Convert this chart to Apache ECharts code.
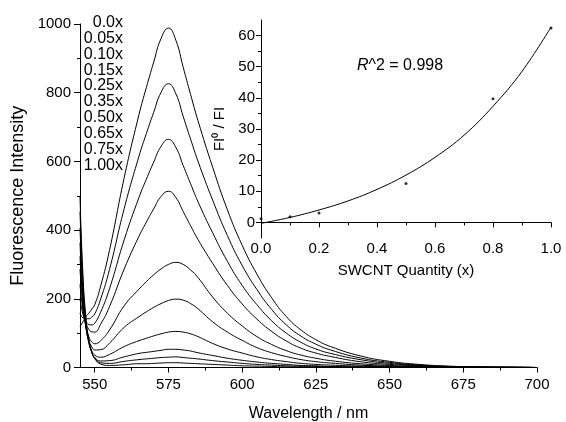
<!DOCTYPE html>
<html>
<head>
<meta charset="utf-8">
<script src="https://cdn.jsdelivr.net/npm/echarts@6/dist/echarts.min.js"></script>
<style>
  html, body { margin: 0; padding: 0; background: #fff; }
  #chart { width: 566px; height: 422px; }
</style>
</head>
<body>
<div id="chart"></div>
<script>
// emission spectra, one array per SWCNT amount
var wavelength = [545,546,547,548,549,550,552,555,560,565,567.5,570,572.5,575,577.5,580,582.5,585,590,595,600,605,610,615,620,625,630,640,650,660,670,680,690,700];
var doseLabels = ['0.0x','0.05x','0.10x','0.15x','0.25x','0.35x','0.50x','0.65x','0.75x','1.00x'];

var int000 = [119,133,148,158,170,183,237,341,553,736,815,889,958,988,953,874,795,719,583,459,356,272,203,148,109,81,61,34,18,9,4,2,1,0];
var int005 = [159,144,142,142,147,156,199,285,463,615,681,743,801,826,797,731,665,601,487,384,297,227,169,124,91,68,51,28,15,7,3,2,1,0];
var int010 = [200,155,135,125,124,129,161,229,372,495,548,598,644,664,641,588,535,483,392,309,239,183,136,100,73,54,41,23,12,6,3,1,1,0];
var int015 = [242,167,130,111,104,103,126,177,287,382,423,462,498,513,495,454,413,373,303,239,185,141,105,77,56,42,32,17,9,5,2,1,1,0];
var int025 = [287,177,120,89,75,69,78,109,180,228,250,270,287,300,306,300,284,262,205,158,121,90,67,49,36,27,20,11,6,3,1,1,0,0];
var int035 = [324,189,118,80,60,51,52,71,117,148,162,175,186,195,199,196,186,171,133,103,79,58,43,32,23,17,13,7,4,2,1,0,0,0];
var int050 = [363,204,118,73,48,36,30,38,61,78,85,92,98,103,105,103,98,90,70,54,42,31,23,17,12,9,7,4,2,1,0,0,0,0];
var int065 = [406,224,125,72,44,29,19,20,31,41,44,47,50,53,53,51,48,43,35,27,21,16,12,9,6,5,3,2,1,0,0,0,0,0];
var int075 = [454,248,137,77,44,27,14,12,18,23,25,27,29,30,31,29,27,25,20,16,12,9,7,5,4,3,2,1,1,0,0,0,0,0];
var int100 = [497,270,147,81,45,26,10,6,8,11,11,12,13,14,14,13,12,11,9,7,5,4,3,2,2,1,1,0,0,0,0,0,0,0];
var spectra = [int000,int005,int010,int015,int025,int035,int050,int065,int075,int100];

// inset: quenching ratio vs amount, and the fitted curve
var quantity = [0, 0.1, 0.2, 0.5, 0.8, 1.0];
var ratio = [1.2, 1.8, 3.0, 12.5, 39.7, 62.4];
var fitX = [0, 0.1, 0.2, 0.3, 0.4, 0.5, 0.6, 0.7, 0.8, 0.9, 1.0];
var fitY = [-0.3, 1.6, 4.0, 6.9, 10.6, 15.2, 20.9, 28.0, 37.3, 48.5, 62.7];

var mainXTicks = [550,575,600,625,650,675,700];
var mainXMinor = [562.5,587.5,612.5,637.5,662.5,687.5];
var insetYTicks = [0,10,20,30,40,50,60];
var insetYMinor = [5,15,25,35,45,55];

var font = '"Liberation Sans", Arial, sans-serif';
var black = '#000';

var chart = echarts.init(document.getElementById('chart'));

var series = []
spectra.forEach(function (vals, i) {
    series.push({
        name: doseLabels[i],
        type: 'line',
        xAxisIndex: 0,
        yAxisIndex: 0,
        data: wavelength.map(function (w, j) { return [w, vals[j]] }),
        showSymbol: false,
        symbol: 'none',
        smooth: 0.5,
        lineStyle: { color: black, width: 1 },
        z: 2
    })
})
series.push({
    type: 'line',
    xAxisIndex: 2,
    yAxisIndex: 1,
    data: fitX.map(function (x, j) { return [x, fitY[j]] }),
    symbol: 'none',
    smooth: 0.4,
    lineStyle: { color: black, width: 1 }
})
series.push({
    type: 'scatter',
    xAxisIndex: 2,
    yAxisIndex: 1,
    data: quantity.map(function (x, j) { return [x, ratio[j]] }),
    symbol: 'circle',
    symbolSize: 3,
    itemStyle: { color: black }
})

var axisLine = { show: true, lineStyle: { color: black, width: 1 } }
var label = { color: black, fontSize: 15, fontFamily: font }

var option = {
    animation: false,
    backgroundColor: '#fff',
    textStyle: { fontFamily: font, color: black },
    grid: [
        { left: 80, right: 29, top: 24, bottom: 54.5, outerBoundsMode: 'none' },
        { left: 261, right: 15, top: 20, bottom: 184, outerBoundsMode: 'none' }
    ],
    xAxis: [
        {
            type: 'value', gridIndex: 0, min: 545, max: 700,
            axisLine: axisLine,
            axisTick: { show: true, length: 5, customValues: mainXTicks, lineStyle: { color: black } },
            axisLabel: Object.assign({ customValues: mainXTicks, margin: 10 }, label),
            splitLine: { show: false },
            name: 'Wavelength / nm', nameLocation: 'middle', nameGap: 38,
            nameTextStyle: { fontSize: 16, color: black, fontFamily: font }
        },
        {
            type: 'value', gridIndex: 0, min: 545, max: 700, position: 'bottom',
            axisLine: { show: false },
            axisTick: { show: true, length: 3, customValues: mainXMinor, lineStyle: { color: black } },
            axisLabel: { show: false },
            splitLine: { show: false }
        },
        {
            type: 'value', gridIndex: 1, min: 0, max: 1, interval: 0.2,
            axisLine: axisLine,
            axisTick: { show: true, length: 5, lineStyle: { color: black } },
            minorTick: { show: true, splitNumber: 2, length: 3, lineStyle: { color: black } },
            axisLabel: Object.assign({ margin: 3, formatter: function (v) { return v.toFixed(1) } }, label),
            splitLine: { show: false },
            name: 'SWCNT Quantity (x)', nameLocation: 'middle', nameGap: 25,
            nameTextStyle: { fontSize: 15, color: black, fontFamily: font }
        }
    ],
    yAxis: [
        {
            type: 'value', gridIndex: 0, min: 0, max: 1000, interval: 200,
            axisLine: axisLine,
            axisTick: { show: true, length: 6, lineStyle: { color: black } },
            minorTick: { show: true, splitNumber: 2, length: 3, lineStyle: { color: black } },
            axisLabel: Object.assign({ margin: 9, formatter: function (v) { return String(v) } }, label),
            splitLine: { show: false },
            name: 'Fluorescence Intensity', nameLocation: 'middle', nameGap: 52,
            nameTextStyle: { fontSize: 18, color: black, fontFamily: font }
        },
        {
            type: 'value', gridIndex: 1, min: -5, max: 65,
            axisLine: axisLine,
            axisTick: { show: true, length: 5, customValues: insetYTicks, lineStyle: { color: black } },
            axisLabel: Object.assign({ customValues: insetYTicks, margin: 6 }, label),
            splitLine: { show: false },
            name: 'FI\u2070 / FI', nameLocation: 'middle', nameGap: 25,
            nameTextStyle: { fontSize: 15, color: black, fontFamily: font }
        },
        {
            type: 'value', gridIndex: 1, min: -5, max: 65, position: 'left',
            axisLine: { show: false },
            axisTick: { show: true, length: 3, customValues: insetYMinor, lineStyle: { color: black } },
            axisLabel: { show: false },
            splitLine: { show: false }
        }
    ],
    graphic: [
        {
            type: 'text', x: 123, y: 14.5,
            style: {
                text: doseLabels.join('\n'),
                align: 'right', verticalAlign: 'top',
                fontSize: 16, fontFamily: font, lineHeight: 15.9, fill: black
            }
        },
        {
            type: 'text', x: 400, y: 66,
            style: {
                text: '{i|R}^2 = 0.998',
                align: 'center', verticalAlign: 'middle',
                fontSize: 16, fontFamily: font, fill: black,
                rich: { i: { fontStyle: 'italic', fontSize: 16, fontFamily: font, fill: black } }
            }
        }
    ],
    series: series
}
chart.setOption(option)
</script>
</body>
</html>
